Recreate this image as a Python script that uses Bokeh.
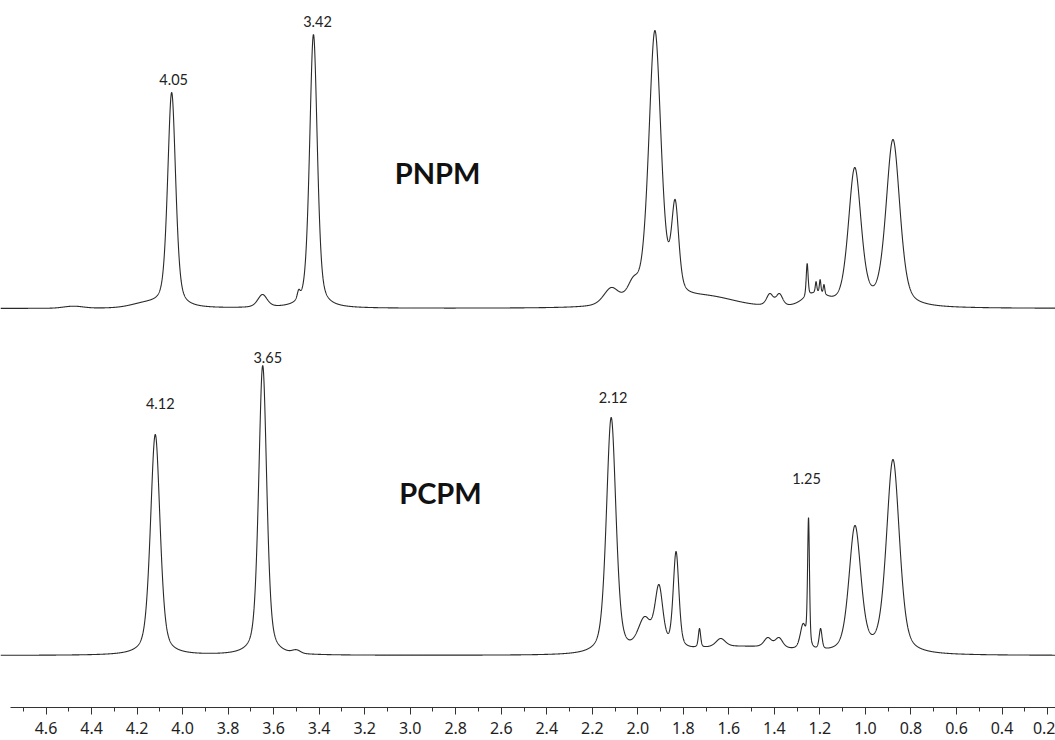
import numpy as np
from bokeh.plotting import figure
from bokeh.models import Range1d, FixedTicker, ColumnDataSource
from bokeh.core.properties import value
from bokeh.embed import file_html
from bokeh.resources import INLINE

# ---------------- data ----------------
# chemical-shift axis
tick_labels = ["4.6", "4.4", "4.2", "4.0", "3.8", "3.6", "3.4", "3.2", "3.0", "2.8", "2.6",
               "2.4", "2.2", "2.0", "1.8", "1.6", "1.4", "1.2", "1.0", "0.8", "0.6", "0.4", "0.2"]

# PNPM (upper trace): resolved peaks -> shift (ppm), apparent height, FWHM (ppm)
pnpm_shift = [4.048, 3.649, 3.49, 3.425, 2.117, 2.02, 1.925, 1.836, 1.42, 1.378,
              1.256, 1.217, 1.199, 1.182, 1.047, 0.879]
pnpm_height = [216, 14, 19, 274, 21, 32, 278, 109, 15, 15,
               45, 27, 29, 24, 141, 169]
pnpm_width = [0.042, 0.05, 0.015, 0.04, 0.08, 0.06, 0.064, 0.038, 0.035, 0.035,
              0.010, 0.008, 0.008, 0.008, 0.066, 0.072]
# PNPM broad underlying humps
pnpm_bg_shift = [4.48, 4.16, 1.70, 1.22]
pnpm_bg_height = [2, 4, 10, 12]
pnpm_bg_width = [0.10, 0.15, 0.30, 0.12]

# PCPM (lower trace)
pcpm_shift = [4.12, 3.648, 2.117, 1.97, 1.907, 1.832, 1.729, 1.636, 1.429, 1.38,
              1.274, 1.25, 1.197, 1.046, 0.993, 0.879]
pcpm_height = [221, 290, 238, 39, 71, 104, 27, 17, 18, 18,
               32, 138, 27, 130, 29, 196]
pcpm_width = [0.05, 0.042, 0.05, 0.07, 0.042, 0.03, 0.012, 0.05, 0.04, 0.04,
              0.03, 0.010, 0.015, 0.062, 0.03, 0.068]
pcpm_bg_shift = [3.50, 1.55]
pcpm_bg_height = [3, 8]
pcpm_bg_width = [0.04, 0.50]

# peak annotations
pnpm_labels = ["4.05", "3.42"]
pcpm_labels = ["4.12", "3.65", "2.12", "1.25"]
samples = ["PNPM", "PCPM"]

# ---------------- layout / style settings ----------------
W, H = 1055, 740
FRAME_H = 707
X_LEFT, X_RIGHT = 4.80, 0.165
AXIS_LEFT = 4.756
OFFSETS = {"PNPM": 399, "PCPM": 52}
ETA = 0.45
LINE = "#2a2a2a"

ppm = np.arange(X_LEFT, X_RIGHT, -0.0005)


def shape(x, c, w):
    g = np.exp(-4 * np.log(2) * ((x - c) / w) ** 2)
    l = 1.0 / (1.0 + ((x - c) / (w / 2)) ** 2)
    return ETA * l + (1 - ETA) * g


def spectrum(shift, height, width, bs, bh, bw):
    bg = np.zeros_like(ppm)
    bg_at = np.zeros(len(shift))
    for c, h, w in zip(bs, bh, bw):
        bg += h * np.exp(-4 * np.log(2) * ((ppm - c) / w) ** 2)
        bg_at += h * np.exp(-4 * np.log(2) * ((np.array(shift) - c) / w) ** 2)
    M = np.array([[shape(ci, cj, wj) for cj, wj in zip(shift, width)] for ci in shift])
    amp = np.linalg.solve(M, np.array(height, float) - bg_at)
    amp = np.clip(amp, 0, None)
    y = bg.copy()
    for a, c, w in zip(amp, shift, width):
        y += a * shape(ppm, c, w)
    return y


p = figure(width=W, height=H, output_backend="svg", toolbar_location=None,
           x_range=Range1d(X_LEFT, X_RIGHT), y_range=Range1d(0, FRAME_H),
           y_axis_location=None, min_border_left=0, min_border_right=0,
           min_border_top=0, min_border_bottom=H - FRAME_H)
p.outline_line_color = None
p.xgrid.visible = False
p.ygrid.visible = False
p.background_fill_color = "white"
p.border_fill_color = "white"

traces = {
    "PNPM": spectrum(pnpm_shift, pnpm_height, pnpm_width, pnpm_bg_shift, pnpm_bg_height, pnpm_bg_width),
    "PCPM": spectrum(pcpm_shift, pcpm_height, pcpm_width, pcpm_bg_shift, pcpm_bg_height, pcpm_bg_width),
}
for name in samples:
    src = ColumnDataSource(dict(x=ppm, y=traces[name] + OFFSETS[name]))
    p.line("x", "y", source=src, line_color=LINE, line_width=1.1)

# peak labels
label_sets = [("PNPM", pnpm_labels, pnpm_shift, pnpm_height, [2, 4], [13, 13]),
              ("PCPM", pcpm_labels, pcpm_shift, pcpm_height, [5, 5, 2, -2], [31, 8, 20, 39])]
for name, labs, shifts, heights, dxs, gaps in label_sets:
    xs, ys = [], []
    for lab in labs:
        v = float(lab)
        i = int(np.argmin([abs(s - v) for s in shifts]))
        xs.append(shifts[i])
        ys.append(OFFSETS[name] + heights[i])
    src = ColumnDataSource(dict(x=xs, y=ys, t=labs, dx=dxs, dy=[-g for g in gaps]))
    p.text("x", "y", text="t", source=src, x_offset="dx", y_offset="dy",
           text_align="center", text_baseline="middle",
           text_font=value("Lato"), text_font_size="14.5px", text_color="#222222")

# sample names
name_src = ColumnDataSource(dict(x=[2.88, 2.867], y=[535, 215], t=samples))
p.text("x", "y", text="t", source=name_src, text_align="center", text_baseline="middle",
       text_font=value("Lato"), text_font_size="29px", text_font_style="bold",
       text_color="#111111")

# axis
tick_vals = [float(t) for t in tick_labels]
minor_vals = [round(v - 0.1, 1) for v in tick_vals] + [4.7]
ax = p.xaxis[0]
ax.ticker = FixedTicker(ticks=tick_vals, minor_ticks=minor_vals)
ax.major_label_overrides = {v: t for v, t in zip(tick_vals, tick_labels)}
ax.bounds = (X_RIGHT, AXIS_LEFT)
ax.axis_line_color = "#333333"
ax.major_tick_line_color = "#333333"
ax.minor_tick_line_color = "#333333"
ax.major_tick_out = 7
ax.major_tick_in = 0
ax.minor_tick_out = 4
ax.minor_tick_in = 0
ax.major_label_standoff = 7
ax.major_label_text_font = "Noto Sans"
ax.major_label_text_font_size = "16px"
ax.major_label_text_color = "#1e1e1e"

open("out.html", "w").write(file_html(p, INLINE))
